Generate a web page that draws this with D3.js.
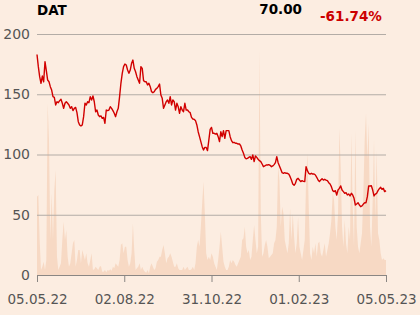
<!DOCTYPE html>
<html>
<head>
<meta charset="utf-8">
<script src="https://cdn.jsdelivr.net/npm/d3@7"></script>
<style>
  html, body { margin: 0; padding: 0; background: #fcede1; }
  svg { display: block; font-family: "DejaVu Sans", sans-serif; }
</style>
</head>
<body>
<div id="chart"></div>
<script>
const W = 420;
const H = 315;

const ticker = "DAT";
const lastPrice = "70.00";
const change = "-61.74%";

const xLabels = ["05.05.22", "02.08.22", "31.10.22", "01.02.23", "05.05.23"];
const yTicks = [0, 50, 100, 150, 200];

const prices = [
  183.0, 172.9, 164.6, 159.1, 165.1, 160.4, 177.0, 169.6, 161.8, 160.4,
  156.3, 153.5, 148.0, 147.4, 141.1, 143.8, 143.0, 144.7, 145.8, 142.5,
  138.3, 142.5, 143.8, 142.5, 141.1, 138.3, 139.7, 136.4, 138.3, 139.1,
  134.7, 127.2, 124.5, 123.7, 124.5, 131.4, 142.5, 141.1, 143.8, 143.0,
  148.0, 145.2, 148.6, 143.8, 135.5, 136.9, 132.8, 131.4, 132.0, 130.0,
  130.8, 125.9, 136.9, 136.4, 136.9, 139.7, 138.3, 136.4, 134.2, 131.4,
  135.5, 138.3, 148.0, 159.1, 167.4, 172.9, 175.1, 174.3, 170.1, 167.4,
  170.1, 175.7, 178.4, 171.5, 168.7, 164.6, 161.8, 159.1, 172.9, 171.5,
  161.3, 160.4, 160.4, 157.7, 159.1, 156.3, 152.1, 151.3, 152.1, 154.1,
  154.9, 156.3, 158.5, 149.4, 146.6, 138.3, 141.1, 143.8, 145.2, 142.5,
  148.0, 141.1, 145.2, 143.8, 136.9, 142.5, 139.7, 134.2, 139.7, 136.9,
  135.5, 142.5, 136.9, 136.9, 135.5, 134.7, 130.8, 129.5, 129.2, 128.1,
  124.5, 118.9, 114.8, 110.7, 106.5, 103.7, 105.9, 105.9, 103.2, 112.0,
  120.9, 122.5, 117.6, 117.6, 117.0, 117.6, 114.8, 110.7, 118.9, 114.8,
  119.8, 113.4, 119.8, 119.8, 119.8, 114.8, 111.5, 109.8, 110.1, 109.3,
  109.3, 108.7, 108.7, 107.1, 103.7, 101.0, 97.6, 96.5, 96.8, 97.6,
  98.2, 96.0, 99.6, 94.1, 98.8, 97.6, 96.0, 94.9, 94.1, 92.1,
  89.9, 90.5, 91.3, 91.3, 91.6, 91.0, 89.9, 90.5, 91.6, 93.2,
  98.2, 93.2, 90.5, 87.7, 84.9, 84.4, 84.9, 84.4, 84.4, 83.8,
  81.6, 78.8, 75.5, 74.4, 76.1, 79.4, 80.2, 78.8, 77.5, 78.3,
  77.7, 77.5, 89.9, 86.6, 84.4, 83.8, 84.4, 83.8, 83.8, 83.0,
  81.1, 78.8, 77.5, 78.8, 79.9, 78.8, 79.4, 78.8, 78.3, 76.6,
  75.5, 73.3, 70.0, 69.2, 70.0, 66.4, 70.5, 71.9, 73.9, 70.5,
  69.2, 67.8, 68.3, 66.4, 67.2, 65.6, 67.8, 66.4, 63.6, 58.1,
  58.9, 60.0, 58.1, 56.7, 57.3, 58.9, 60.0, 60.0, 65.0, 73.9,
  73.9, 74.1, 70.5, 65.6, 67.2, 67.8, 70.0, 71.6, 72.8, 71.1,
  71.9, 69.2, 70.0
];

// volume in thousands
const volumes = [
  235, 240, 105, 15, 25, 40, 15, 45, 515, 405,
  105, 245, 105, 255, 315, 55, 15, 25, 35, 105,
  160, 105, 135, 55, 25, 35, 65, 95, 105, 25,
  45, 75, 75, 35, 75, 60, 45, 65, 35, 25,
  45, 65, 15, 17, 25, 20, 15, 25, 27, 10,
  10, 15, 8, 15, 13, 17, 13, 25, 20, 35,
  30, 25, 45, 90, 95, 65, 85, 85, 45, 25,
  35, 65, 155, 75, 15, 20, 25, 35, 15, 25,
  15, 10, 7, 15, 5, 25, 35, 25, 15, 20,
  40, 45, 55, 55, 75, 90, 65, 35, 50, 55,
  65, 55, 40, 25, 25, 35, 20, 15, 15, 15,
  25, 15, 20, 25, 15, 15, 17, 25, 15, 35,
  85, 105, 85, 145, 215, 280, 185, 65, 45, 55,
  45, 65, 55, 35, 25, 15, 45, 85, 130, 85,
  40, 25, 15, 15, 25, 45, 35, 45, 40, 30,
  25, 35, 45, 55, 105, 110, 145, 85, 65, 75,
  45, 55, 105, 150, 105, 65, 85, 675, 185, 55,
  65, 90, 105, 85, 50, 55, 60, 65, 95, 105,
  145, 325, 285, 145, 205, 185, 105, 85, 65, 95,
  200, 105, 185, 115, 65, 95, 175, 85, 65, 45,
  75, 105, 285, 365, 205, 65, 45, 85, 65, 95,
  55, 95, 100, 65, 55, 75, 95, 55, 75, 95,
  125, 165, 245, 225, 145, 105, 185, 440, 325, 145,
  85, 165, 95, 65, 145, 105, 425, 205, 85, 435,
  145, 85, 65, 95, 125, 245, 405, 485, 345, 455,
  145, 85, 225, 405, 165, 375, 125, 105, 65, 45,
  50, 45, 45
];

const plotLeft = 37, plotRight = 386, plotTop = 34, plotBottom = 275;

const svg = d3.select("#chart").append("svg")
  .attr("width", W)
  .attr("height", H);

const n = prices.length;
const x = d3.scaleLinear().domain([0, n - 1]).range([plotLeft, plotRight]);
const y = d3.scaleLinear().domain([0, 200]).range([plotBottom, plotTop]);
const yVol = d3.scaleLinear().domain([0, 705]).range([plotBottom, 40]);

// volume
const volArea = d3.area()
  .x((d, i) => x(i))
  .y0(plotBottom)
  .y1(d => yVol(d));

svg.append("path")
  .datum(volumes)
  .attr("d", volArea)
  .attr("fill", "#f7d9c4")
  .attr("stroke", "none");

// y grid + labels
const yAxis = svg.append("g")
  .attr("transform", `translate(${plotLeft},0)`)
  .call(d3.axisLeft(y).tickValues(yTicks).tickSize(-(plotRight - plotLeft)).tickPadding(7));
yAxis.select(".domain").remove();
yAxis.selectAll("line").attr("stroke", "#b3aca6");
yAxis.selectAll("text")
  .attr("fill", "#555")
  .style("font-size", "14px")
  .style("font-family", "DejaVu Sans");

// x axis
const tickIdx = xLabels.map((d, i) => i * (n - 1) / (xLabels.length - 1));
const xAxis = svg.append("g")
  .attr("transform", `translate(0,${plotBottom})`)
  .call(d3.axisBottom(x).tickValues(tickIdx)
    .tickFormat((d, i) => xLabels[i]).tickSize(7).tickSizeOuter(0).tickPadding(12));
xAxis.select(".domain").attr("stroke", "#8a8683");
xAxis.selectAll("line").attr("stroke", "#8a8683");
xAxis.selectAll("text")
  .attr("fill", "#555")
  .style("font-size", "13.5px")
  .style("font-family", "DejaVu Sans");

// price line
const line = d3.line()
  .x((d, i) => x(i))
  .y(d => y(d));

svg.append("path")
  .datum(prices)
  .attr("d", line)
  .attr("fill", "none")
  .attr("stroke", "#d10000")
  .attr("stroke-width", 1.4)
  .attr("stroke-linejoin", "round");

// header
svg.append("text")
  .attr("x", 37).attr("y", 15)
  .attr("font-weight", "bold")
  .attr("font-size", 13.5)
  .attr("fill", "#000")
  .text(ticker);

svg.append("text")
  .attr("x", 302).attr("y", 14)
  .attr("text-anchor", "end")
  .attr("font-weight", "bold")
  .attr("font-size", 13.5)
  .attr("fill", "#000")
  .text(lastPrice);

svg.append("text")
  .attr("x", 320).attr("y", 21)
  .attr("font-weight", "bold")
  .attr("font-size", 13.5)
  .attr("fill", "#cc0000")
  .text(change);
</script>
</body>
</html>
